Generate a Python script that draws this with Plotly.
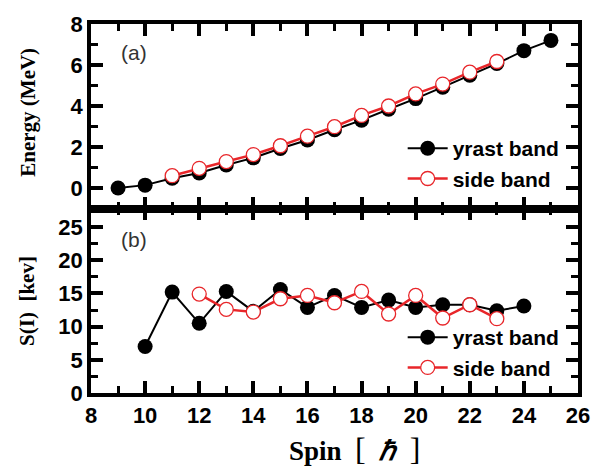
import plotly.graph_objects as go

spin_yrast = [9, 10, 11, 12, 13, 14, 15, 16, 17, 18, 19, 20, 21, 22, 23, 24, 25]
energy_yrast = [0.0, 0.14, 0.48, 0.73, 1.12, 1.47, 1.93, 2.34, 2.84, 3.31, 3.84, 4.36, 4.92, 5.50, 6.07, 6.70, 7.20]
spin_side = [11, 12, 13, 14, 15, 16, 17, 18, 19, 20, 21, 22, 23]
energy_side = [0.60, 0.96, 1.29, 1.63, 2.06, 2.53, 2.99, 3.54, 4.00, 4.59, 5.07, 5.65, 6.17]

s_spin_yrast = [10, 11, 12, 13, 14, 15, 16, 17, 18, 19, 20, 21, 22, 23, 24]
s_yrast = [7.0, 15.2, 10.5, 15.3, 12.3, 15.6, 12.9, 14.7, 12.9, 14.0, 12.9, 13.3, 13.3, 12.4, 13.1]
s_spin_side = [12, 13, 14, 15, 16, 17, 18, 19, 20, 21, 22, 23]
s_side = [14.9, 12.6, 12.2, 14.2, 14.7, 13.6, 15.3, 11.9, 14.7, 11.3, 13.3, 11.2]

x_ticks = [8, 10, 12, 14, 16, 18, 20, 22, 24, 26]
e_ticks = [0, 2, 4, 6, 8]
s_ticks = [0, 5, 10, 15, 20, 25]

BLACK = "black"
RED = "#e8262a"

fig = go.Figure()

def add_pair(xb, yb, xr, yr, xa, ya, leg):
    fig.add_trace(go.Scatter(x=xb, y=yb, xaxis=xa, yaxis=ya, mode="lines+markers",
                             name="yrast band", legend=leg,
                             line=dict(color=BLACK, width=2),
                             marker=dict(symbol="circle", size=15, color=BLACK,
                                         line=dict(color=BLACK, width=0))))
    fig.add_trace(go.Scatter(x=xr, y=yr, xaxis=xa, yaxis=ya, mode="lines+markers",
                             name="side band", legend=leg,
                             line=dict(color=RED, width=2.5),
                             marker=dict(symbol="circle", size=14, color="white",
                                         line=dict(color=RED, width=1.3))))

add_pair(spin_yrast, energy_yrast, spin_side, energy_side, "x", "y", "legend")
add_pair(s_spin_yrast, s_yrast, s_spin_side, s_side, "x2", "y2", "legend2")

def labels(vals):
    return ["<b>%g</b>" % v for v in vals]

tickfont = dict(family="Liberation Sans", size=22, color="black", weight=700)
minor = dict(ticks="inside", ticklen=7, tickwidth=3, tickcolor="black")
common = dict(showline=True, linewidth=3.5, linecolor="black", mirror="allticks",
              ticks="inside", ticklen=12, tickwidth=3.5, tickcolor="black",
              showgrid=False, zeroline=False, tickfont=tickfont, tickmode="array")

legfont = dict(family="Liberation Sans", size=21, color="black", weight=700)

fig.update_layout(
    width=602, height=471,
    margin=dict(l=91, r=24, t=18, b=78),
    plot_bgcolor="white", paper_bgcolor="white",
    xaxis=dict(domain=[0, 1], anchor="y", range=[8, 26], tickvals=x_ticks,
               ticktext=labels(x_ticks), showticklabels=False,
               minor=dict(dtick=1, **minor), **common),
    yaxis=dict(domain=[0.5, 1], anchor="x", range=[-1, 8], tickvals=e_ticks,
               ticktext=labels(e_ticks),
               minor=dict(dtick=1, **minor), **common),
    xaxis2=dict(domain=[0, 1], anchor="y2", range=[8, 26], tickvals=x_ticks,
                ticktext=labels(x_ticks),
                minor=dict(dtick=1, **minor), **common),
    yaxis2=dict(domain=[0, 0.5], anchor="x2", range=[0, 27.8], tickvals=s_ticks,
                ticktext=labels(s_ticks),
                minor=dict(dtick=2.5, **minor), **common),
    legend=dict(x=0.64, y=0.718, xanchor="left", yanchor="top", bgcolor="rgba(0,0,0,0)",
                font=legfont, tracegroupgap=0, itemwidth=40),
    legend2=dict(x=0.64, y=0.206, xanchor="left", yanchor="top", bgcolor="rgba(0,0,0,0)",
                 font=legfont, tracegroupgap=0, itemwidth=40),
    showlegend=True,
)

fig.add_annotation(text="(a)", xref="paper", yref="paper", x=0.058, y=0.922,
                   showarrow=False, xanchor="left", yanchor="middle",
                   font=dict(family="Liberation Sans", size=21, color="#333"))
fig.add_annotation(text="(b)", xref="paper", yref="paper", x=0.058, y=0.415,
                   showarrow=False, xanchor="left", yanchor="middle",
                   font=dict(family="Liberation Sans", size=21, color="#333"))

fig.add_annotation(text="Energy (MeV)", xref="paper", yref="paper", x=-0.131, y=0.76,
                   textangle=-90, showarrow=False, xanchor="center", yanchor="middle",
                   font=dict(family="Liberation Serif", size=21, color="black", weight=700))
fig.add_annotation(text="S(I)  [kev]", xref="paper", yref="paper", x=-0.131, y=0.25,
                   textangle=-90, showarrow=False, xanchor="center", yanchor="middle",
                   font=dict(family="Liberation Serif", size=21, color="black", weight=700))
fig.add_annotation(
    text="<b>Spin</b>  <span style='font-size:32px;font-weight:normal'>[</span>  <b><i>ℏ</i></b>  <span style='font-size:32px;font-weight:normal'>]</span>",
    xref="paper", yref="paper", x=0.542, y=-0.152,
    showarrow=False, xanchor="center", yanchor="middle",
    font=dict(family="Liberation Serif", size=27, color="black"))

fig.write_html("out.html")
